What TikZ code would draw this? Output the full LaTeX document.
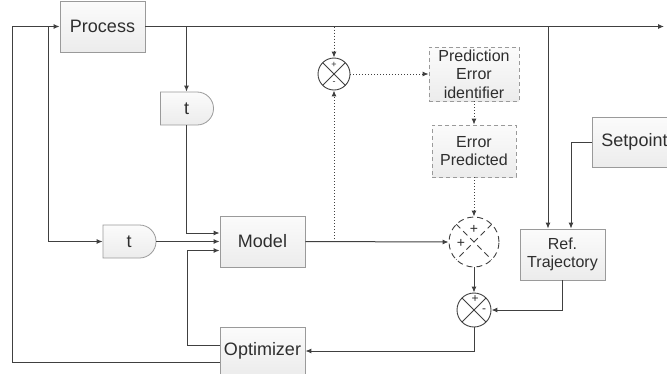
\documentclass[tikz,border=0pt]{standalone}
\usepackage{fontspec}
\setmainfont{Liberation Sans}
\usetikzlibrary{shapes.misc,arrows.meta,calc}
\definecolor{linec}{HTML}{404040}
\definecolor{boxb}{HTML}{9A9A9A}
\definecolor{txt}{HTML}{2E2E2E}
\tikzset{
 box/.style={draw=boxb, line width=0.8pt, top color=gray!3, bottom color=gray!15, minimum width=85pt, minimum height=51pt, inner sep=0pt, text=txt, font=\fontsize{18}{20}\selectfont, align=center},
 mbox/.style={box, font=\fontsize{16}{18.5}\selectfont},
 dbox/.style={mbox, dash pattern=on 4pt off 3pt},
 delay/.style={rounded rectangle, rounded rectangle left arc=none, draw=boxb, line width=0.8pt, top color=gray!3, bottom color=gray!15, minimum width=53pt, minimum height=33pt, inner sep=0pt, text=txt, font=\fontsize{18}{20}\selectfont},
 sumc/.style={circle, draw=linec, line width=0.9pt, fill=white, inner sep=0pt, path picture={\draw[linec, line width=0.8pt] (path picture bounding box.north west) -- (path picture bounding box.south east) (path picture bounding box.north east) -- (path picture bounding box.south west);}},
 dsumc/.style={circle, draw=linec, line width=0.9pt, fill=white, inner sep=0pt, dash pattern=on 6pt off 4pt, path picture={\draw[linec, line width=0.8pt, dash pattern=on 6pt off 4pt] (path picture bounding box.north west) -- (path picture bounding box.south east) (path picture bounding box.north east) -- (path picture bounding box.south west);}},
 arr/.style={draw=linec, line width=1pt, -{Latex[length=6pt,width=5pt]}},
 darr/.style={draw=linec, line width=1pt, dotted, -{Latex[length=6pt,width=5pt]}},
 sgn/.style={text=txt, inner sep=0pt},
}
\begin{document}
\begin{tikzpicture}[x=1pt,y=-1pt]
\useasboundingbox (0,0) rectangle (667,373);
\clip (0,0) rectangle (667,373);
% nodes
\node[box] (proc) at (102.5,26.5) {Process};
\node[delay] (t1) at (186.5,108.5) {t};
\node[delay] (t2) at (129,241.5) {t};
\node[box] (model) at (262.5,241.5) {Model};
\node[box, minimum height=48pt] (opt) at (262.5,351) {Optimizer};
\node[sumc, minimum size=32pt] (s1) at (334,74) {};
\node[dbox, minimum width=90pt, minimum height=54pt] (pei) at (474,74) {Prediction\\Error\\identifier};
\node[dbox, minimum width=84pt, minimum height=52pt] (ep) at (474,151) {Error\\Predicted};
\node[dsumc, minimum size=50pt] (s2) at (474,242) {};
\node[sumc, minimum size=34pt] (s3) at (474,310) {};
\node[mbox] (rt) at (562.5,254.5) {Ref.\\Trajectory};
\node[box, minimum height=50pt] (sp) at (634.5,142) {Setpoint};
% signs
\node[sgn, font=\fontsize{9}{9}\selectfont] at ($(s1)+(0,-9)$) {+};
\node[sgn, font=\fontsize{9}{9}\selectfont] at ($(s1)+(0,9)$) {-};
\node[sgn, font=\fontsize{14}{14}\selectfont] at ($(s2)+(0,-13)$) {+};
\node[sgn, font=\fontsize{14}{14}\selectfont] at ($(s2)+(-13,1)$) {+};
\node[sgn, font=\fontsize{12}{12}\selectfont] at ($(s3)+(1,-11)$) {+};
\node[sgn, font=\fontsize{12}{12}\selectfont] at ($(s3)+(10,1)$) {-};
% coordinates
\coordinate (outEnd) at (664,26.5);
\coordinate (loopL) at (12,26.5);
\coordinate (br1) at (48,26.5);
\coordinate (rtA) at ($(rt.north)+(-14.5,0)$);
\coordinate (rtB) at ($(rt.north)+(8.5,0)$);
\coordinate (mA) at ($(model.west)+(0,-8.5)$);
\coordinate (mC) at ($(model.west)+(0,9)$);
\coordinate (mCx) at ($(model.west)+(-32,9)$);
\coordinate (oA) at ($(opt.west)+(0,-6)$);
\coordinate (oB) at ($(opt.west)+(0,11)$);
% solid connectors
\draw[arr] (proc.east) -- (outEnd);
\draw[arr] (oB) -| (loopL) -- (proc.west);
\draw[arr] (br1) |- (t2.west);
\draw[arr] (t1.north |- proc.east) -- (t1.north);
\draw[arr] (t1.south) |- (mA);
\draw[arr] (t2.east) -- (t2.east -| model.west);
\draw[arr] (oA) -| (mCx) -- (mC);
\draw[arr] (model.east) -- (s2.west);
\draw[arr] (s2.south) -- (s3.north);
\draw[arr] (rt.south) |- (s3.east);
\draw[arr] (s3.south) |- (opt.east);
\draw[arr] (rtA |- proc.east) -- (rtA);
\draw[arr] (sp.west) -| (rtB);
% dotted connectors
\draw[darr] (s1.north |- proc.east) -- (s1.north);
\draw[darr] (s1.south |- model.east) -- (s1.south);
\draw[darr] (s1.east) -- (pei.west);
\draw[darr] (pei.south) -- (ep.north);
\draw[darr] (ep.south) -- (s2.north);
\end{tikzpicture}
\end{document}
